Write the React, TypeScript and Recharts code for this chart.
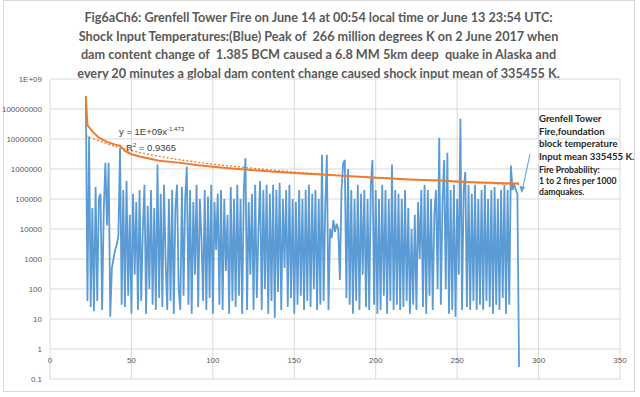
import { LineChart, Line, XAxis, YAxis, CartesianGrid } from "recharts";

const titleLines = [
  "Fig6aCh6: Grenfell Tower Fire on June 14 at 00:54 local time or June 13 23:54 UTC:",
  "Shock Input Temperatures:(Blue) Peak of  266 million degrees K on 2 June 2017 when",
  "dam content change of  1.385 BCM caused a 6.8 MM 5km deep  quake in Alaska and",
  "every 20 minutes a global dam content change caused shock input mean of 335455 K.",
];

const yTicks = [0.1, 1, 10, 100, 1000, 10000, 100000, 1000000, 10000000, 100000000, 1000000000];
const xTicks = [0, 50, 100, 150, 200, 250, 300, 350];

// blue: shock input temperature, one value per step starting at x = 22
const shockStartX = 22;
const shockInput = [
  2.66e8, 40, 1.2e7, 25,
  5e4, 18, 2.5e5, 40, 1e5, 1.5e5, 20, 4e4, 1.6e6, 1.3e4,
  1.6e6, 12, 500, 1e3, 2e3, 3e3, 6e3, 5e6, 30,
  2e5, 25, 4e5, 60, 3e4, 15, 1.5e5, 300, 8e4, 20,
  2e5, 40, 1e4, 3e5, 15, 6e4, 100, 2e5, 30, 5e4,
  20, 1.4e6, 50, 1.5e5, 25, 3e5, 800, 20, 1e5, 40,
  2e5, 15, 5e4, 3e5, 100, 20, 2.5e5, 60, 1e5, 1.2e6,
  30, 2e5, 15, 8e4, 300, 3e5, 25, 1e5, 5e3, 40,
  2e5, 20, 1.2e5, 50, 3e5, 15, 8e4, 2e3, 1.5e5, 30,
  2e5, 20, 1e5, 400, 3e4, 15, 2.5e5, 40, 1e5, 25,
  3e5, 60, 1e5, 15, 2e5, 2.3e6, 20, 8e4, 300, 1.5e5,
  20, 3e5, 50, 1e4, 4e5, 20, 2e5, 100, 3e5, 15,
  1.5e5, 40, 3e5, 11, 2e5, 80, 3.5e5, 20, 1e5, 500,
  2e5, 25, 3e5, 50, 1e5, 15, 8e4, 30, 2e5, 60,
  1e5, 20, 2e5, 40, 3e5, 25, 1.5e5, 100, 2e5, 20,
  1e5, 30, 3e6, 40, 5e4, 3e6, 20, 1e4, 5e3, 2e4,
  8e3, 1.5e4, 1e4, 200, 2e5, 1.5e6, 2e6, 50, 1e6, 30,
  2e5, 15, 1e5, 40, 3e5, 20, 1.5e5, 300, 2e5, 25,
  1e5, 20, 3e5, 2e6, 30, 2e5, 15, 1e5, 20, 3e5,
  60, 2e5, 15, 1e5, 40, 1.4e6, 20, 2e5, 30, 1.5e5,
  20, 1e5, 25, 2e5, 40, 5e4, 15, 1e4, 30, 3e4,
  20, 8e4, 1e3, 2e5, 25, 3e5, 15, 2e5, 60, 1e5,
  20, 3e4, 2e5, 100, 1.1e7, 30, 8e4, 2e6, 100, 3.5e6,
  15, 2e5, 20, 3e5, 12, 1e5, 300, 4.7e7, 20, 2e5,
  8e5, 25, 3e5, 20, 1.5e5, 40, 3e5, 20, 1e5, 30,
  2e5, 20, 3e5, 40, 1e5, 25, 2e5, 15, 2.5e5, 30,
  1e5, 20, 2e5, 50, 3e5, 15, 2e5, 30, 1.3e6, 2e5,
  3e5, 2e5, 1.5e5, 0.25,
];

// orange: running mean, read at a few x positions
const meanX = [22, 23, 24, 26, 30, 35, 40, 43, 46, 50, 55, 60, 67, 80, 90, 100, 110, 120, 130, 140, 150, 160, 170, 180, 190, 200, 210, 220, 230, 240, 250, 260, 270, 280, 288];
const meanValues = [2.66e8, 2.8e7, 2.5e7, 1.8e7, 1.1e7, 8e6, 6.5e6, 6e6, 4e6, 3.1e6, 2.6e6, 2.3e6, 1.9e6, 1.6e6, 1.35e6, 1.18e6, 1.05e6, 9.6e5, 8.7e5, 8e5, 7.4e5, 6.8e5, 6.4e5, 5.9e5, 5.5e5, 5.1e5, 4.8e5, 4.5e5, 4.3e5, 4.1e5, 3.85e5, 3.6e5, 3.45e5, 3.35e5, 3.3e5];

// dotted power trendline
const trendX = [22, 25, 30, 40, 50, 60, 80, 100, 125, 150, 175, 200, 225, 250, 275, 288];
const trendValues = [1.3e7, 1.1e7, 8.7e6, 5.6e6, 4.1e6, 3.1e6, 2.0e6, 1.45e6, 1.05e6, 7.9e5, 6.3e5, 5.2e5, 4.4e5, 3.7e5, 3.2e5, 3.0e5];

const noteLines = ["Grenfell Tower", "Fire,foundation", "block temperature", "Input mean 335455 K."];
const probLines = ["Fire Probability:", "1 to 2 fires per 1000", "damquakes."];

const shockData = shockInput.map((v, i) => ({ x: shockStartX + i, y: v }));
const meanData = meanX.map((x, i) => ({ x, y: meanValues[i] }));
const trendData = trendX.map((x, i) => ({ x, y: trendValues[i] }));

const yLabel = (v: number) => (v >= 1e9 ? "1E+09" : String(v));

const XTick = ({ x, y, payload }: any) => (
  <text x={x} y={y - 24} textAnchor="middle" fontSize={8} fill="#595959" fontFamily="Liberation Sans">
    {payload.value}
  </text>
);

export default function App() {
  return (
    <div style={{ position: "fixed", left: 0, top: 0, width: 640, height: 397, background: "#fff", fontFamily: "Lato, sans-serif" }}>
      <div style={{ position: "absolute", left: 3, top: 0, width: 632, height: 392, border: "1px solid #d9d9d9", boxSizing: "border-box" }} />
      <div style={{ position: "absolute", left: 0, top: 8, width: 637, textAlign: "center", color: "#595959", fontWeight: 700, fontSize: 12.7, lineHeight: "18.7px", whiteSpace: "pre" }}>
        {titleLines.map((t) => (
          <div key={t}>{t}</div>
        ))}
      </div>
      <div style={{ position: "absolute", left: 0, top: 0 }}>
        <LineChart width={640} height={397} margin={{ top: 79, right: 20, bottom: 0, left: 0 }}>
          <CartesianGrid stroke="#d9d9d9" />
          <XAxis type="number" dataKey="x" domain={[0, 350]} ticks={xTicks} height={18} axisLine={false} tickLine={false} tick={<XTick />} />
          <YAxis
            scale="log"
            domain={[0.1, 1e9]}
            ticks={yTicks}
            allowDataOverflow
            width={50}
            axisLine={false}
            tickLine={false}
            tickFormatter={yLabel}
            tick={{ fontSize: 8, fill: "#595959", fontFamily: "Liberation Sans" }}
            tickMargin={2}
          />
          <Line data={shockData} dataKey="y" type="linear" stroke="#5B9BD5" strokeWidth={1.8} dot={false} isAnimationActive={false} />
          <Line data={meanData} dataKey="y" type="linear" stroke="#ED7D31" strokeWidth={2} dot={false} isAnimationActive={false} />
          <Line data={trendData} dataKey="y" type="linear" stroke="#ED7D31" strokeWidth={1.3} strokeDasharray="2 2" dot={false} isAnimationActive={false} />
        </LineChart>
      </div>
      <div style={{ position: "absolute", left: 119, top: 123, fontSize: 9.5, color: "#404040", lineHeight: "12.5px", fontFamily: "Liberation Sans" }}>
        <div>
          y = 1E+09x<sup style={{ fontSize: 6, verticalAlign: "4px" }}>-1.473</sup>
        </div>
        <div style={{ paddingLeft: 7 }}>
          R<sup style={{ fontSize: 6, verticalAlign: "4px" }}>2</sup> = 0.9365
        </div>
      </div>
      <div style={{ position: "absolute", left: 539, top: 113, fontSize: 9.6, fontWeight: 700, color: "#262626", lineHeight: "12.6px", whiteSpace: "pre" }}>
        {noteLines.map((t) => (
          <div key={t}>{t}</div>
        ))}
      </div>
      <div style={{ position: "absolute", left: 539, top: 165, fontSize: 8.6, fontWeight: 700, color: "#262626", lineHeight: "11.2px", whiteSpace: "pre" }}>
        {probLines.map((t) => (
          <div key={t}>{t}</div>
        ))}
      </div>
      <svg style={{ position: "absolute", left: 0, top: 0 }} width={640} height={397}>
        <line x1={530} y1={154} x2={522.5} y2={189} stroke="#5B9BD5" strokeWidth={1} />
        <polygon points="521.5,193 519.5,186 525,187" fill="#5B9BD5" />
      </svg>
    </div>
  );
}
